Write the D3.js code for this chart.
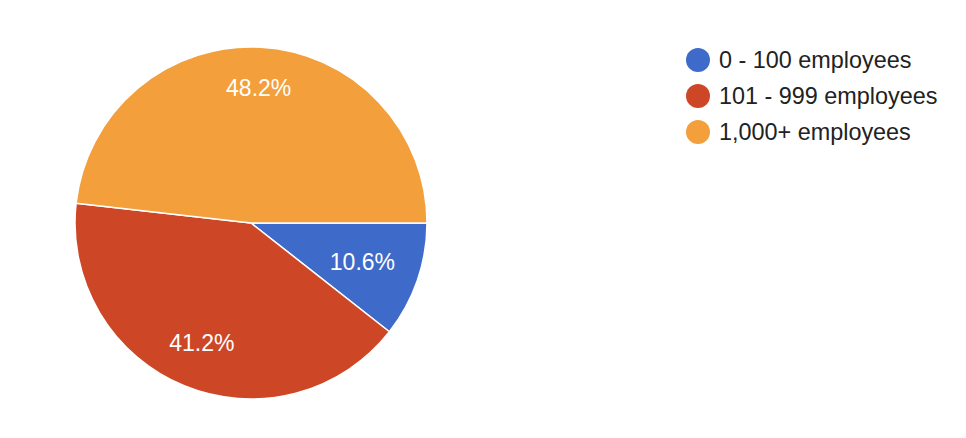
<!DOCTYPE html>
<html>
<head>
<meta charset="utf-8">
<script src="https://cdn.jsdelivr.net/npm/d3@7/dist/d3.min.js"></script>
<style>
  html, body { margin: 0; padding: 0; background: #ffffff; }
  svg { display: block; }
  text { font-family: "Liberation Sans", Arial, Helvetica, sans-serif; }
</style>
</head>
<body>
<svg id="chart" width="966" height="438"></svg>
<script>
const categories = ["0 - 100 employees", "101 - 999 employees", "1,000+ employees"];
const values = [10.6, 41.2, 48.2];
const colors = ["#3e6bc9", "#cd4727", "#f39f3b"];

const W = 966, H = 438;
const cx = 251, cy = 223, R = 176;
const labelRadiusFrac = [0.67, 0.735, 0.77];

const svg = d3.select("#chart");
const g = svg.append("g").attr("transform", `translate(${cx},${cy})`);

const data = categories.map((c, i) => ({ name: c, value: values[i], color: colors[i], i }));

const pie = d3.pie()
  .value(d => d.value)
  .sort(null)
  .startAngle(Math.PI / 2)
  .endAngle(Math.PI / 2 + 2 * Math.PI);

const arc = d3.arc().innerRadius(0).outerRadius(R);
const arcs = pie(data);

g.selectAll("path.slice")
  .data(arcs)
  .enter().append("path")
  .attr("class", "slice")
  .attr("d", arc)
  .attr("fill", d => d.data.color)
  .attr("stroke", "#ffffff")
  .attr("stroke-width", 1.5)
  .attr("stroke-linejoin", "round");

g.selectAll("text.lbl")
  .data(arcs)
  .enter().append("text")
  .attr("class", "lbl")
  .attr("transform", d => {
    const r = R * labelRadiusFrac[d.data.i];
    const c = d3.arc().innerRadius(r).outerRadius(r).centroid(d);
    return `translate(${c[0]},${c[1]})`;
  })
  .attr("text-anchor", "middle")
  .attr("dy", "0.36em")
  .attr("fill", "#ffffff")
  .style("font-size", "23px")
  .text(d => d3.format(".1f")(d.data.value) + "%");

// Legend
const legendY = d3.scalePoint().domain(categories).range([60, 132]);
const lg = svg.append("g");
const items = lg.selectAll("g.item").data(data).enter().append("g")
  .attr("class", "item")
  .attr("transform", d => `translate(698,${legendY(d.name)})`);
items.append("circle").attr("r", 12).attr("fill", d => d.color);
items.append("text")
  .attr("x", 21)
  .attr("dy", "0.36em")
  .attr("fill", "#222222")
  .style("font-size", "23.4px")
  .text(d => d.name);
</script>
</body>
</html>
